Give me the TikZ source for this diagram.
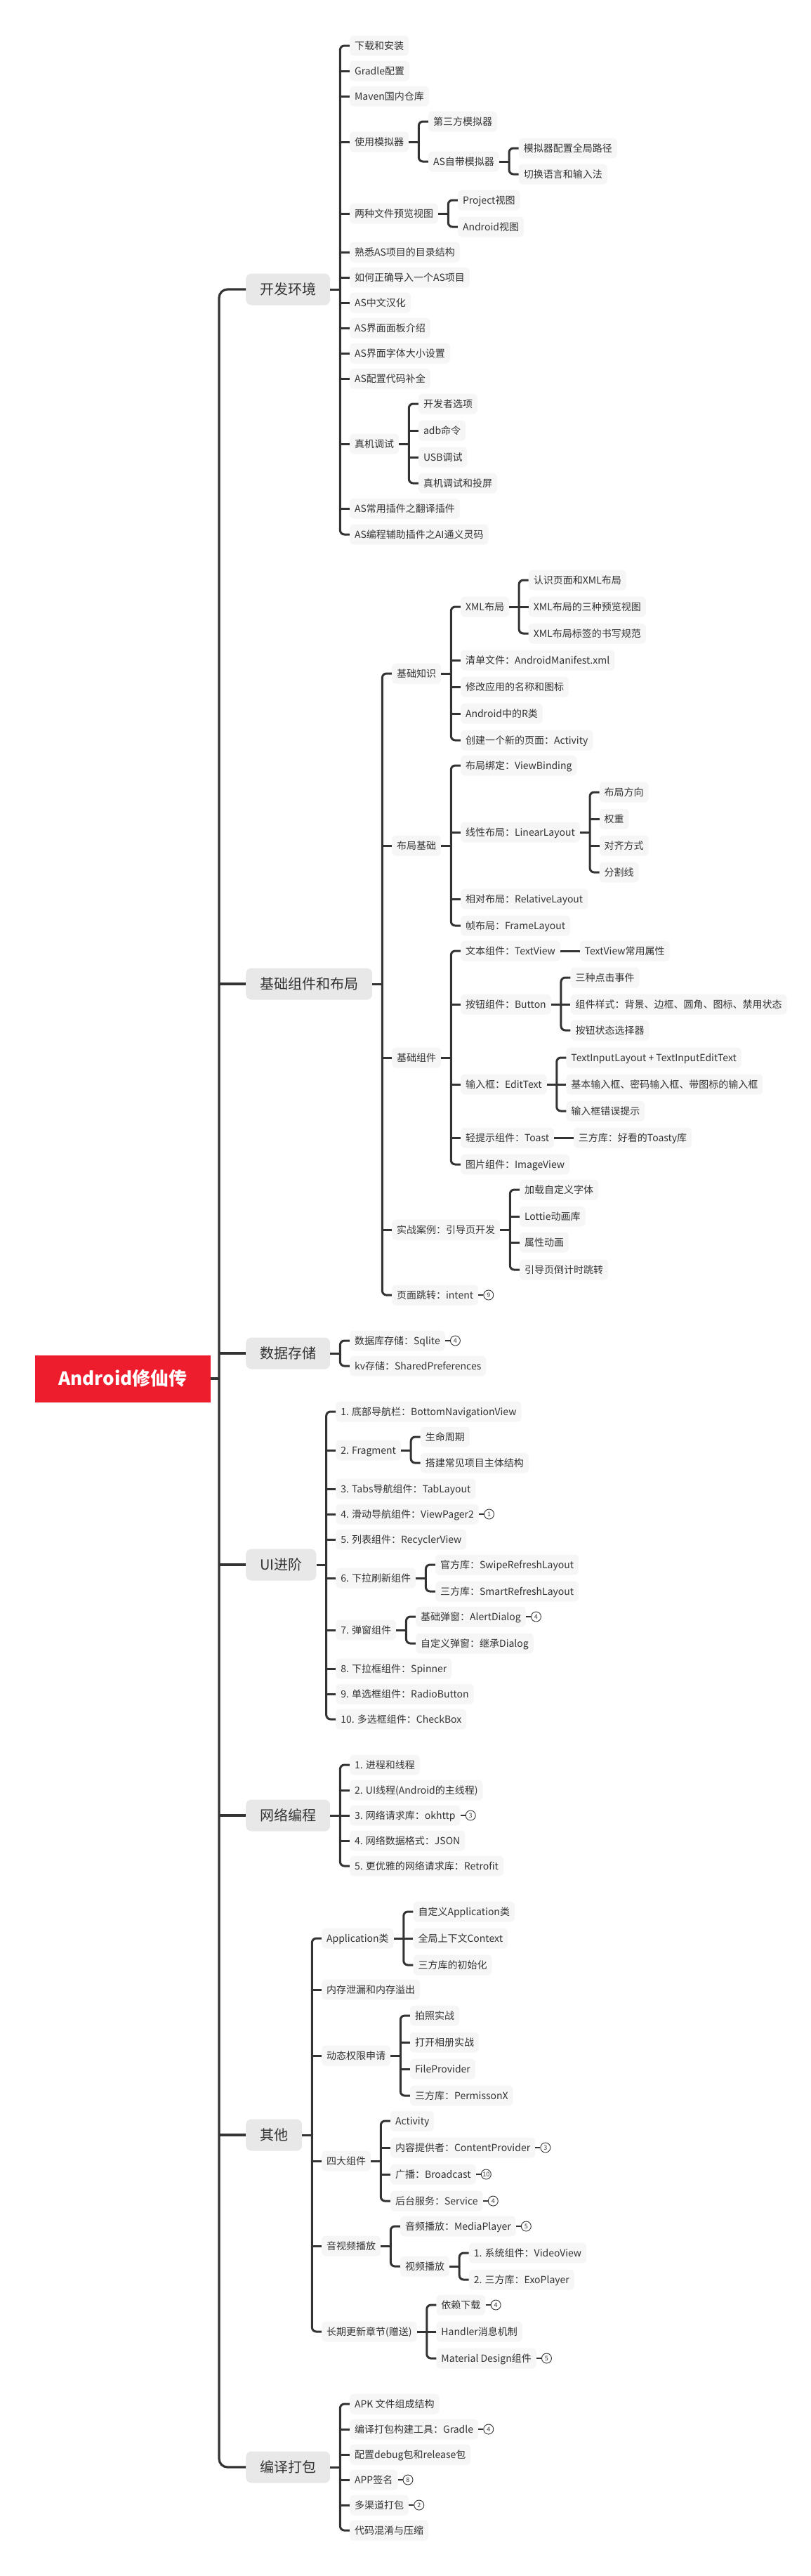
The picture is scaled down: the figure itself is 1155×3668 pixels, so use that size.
\documentclass[tikz,border=0pt]{standalone}
\usepackage{fontspec}
\setmainfont{Noto Sans CJK SC}
\usetikzlibrary{calc,positioning}
\definecolor{lc}{HTML}{333333}
\definecolor{txt}{HTML}{333333}
\definecolor{leafbg}{HTML}{F6F6F6}
\definecolor{topicbg}{HTML}{E8E8E8}
\definecolor{rootred}{HTML}{EE1D2D}
\tikzset{
 leaf/.style={anchor=west, fill=leafbg, rounded corners=6pt, inner xsep=7pt, inner ysep=0pt,
   minimum height=29pt, text height=12pt, text depth=2pt, font=\fontsize{14}{16}\selectfont, text=txt},
 topic/.style={anchor=west, fill=topicbg, rounded corners=8pt, inner xsep=20pt, inner ysep=0pt,
   minimum height=45pt, text height=17pt, text depth=3pt, font=\fontsize{20}{24}\selectfont, text=txt},
 rootbox/.style={fill=rootred, minimum width=250pt, minimum height=67pt, inner sep=0pt,
   text=white, font=\fontsize{26}{30}\selectfont\bfseries},
 conn/.style={draw=lc, line width=3pt},
 trunk/.style={draw=lc, line width=3.2pt},
 badge/.style={circle, draw=lc, line width=0.9pt, fill=white, inner sep=0pt, minimum size=14pt,
   font=\fontsize{9}{9}\selectfont, text=txt}
}
\newcommand\mmkid[4]{\node[leaf,xshift=27.5pt] (#1) at (#2.east |- 0,#3) {#4};}
\newcommand\mmfork[3]{%
 \draw[conn, rounded corners=6pt] (#2.west) -- ++(-13.5,0) |- (#3.west);
 \draw[conn] (#1.east) -- ($(#1.east -| #2.west)+(-13.5,0)$);}
\newcommand\mmstub[1]{\draw[conn] (#1.west) -- ++(-13.5,0);}
\newcommand\mmbadge[3]{\node[badge, right=7pt of #2] (#1) {#3}; \draw[conn, line width=2.2pt] (#2.east) -- (#1.west);}
\begin{document}
\begin{tikzpicture}[x=1pt,y=-1pt]
\useasboundingbox (0,0) rectangle (1155,3668);
% root and main topics
\node[rootbox] (R) at (175,1963) {Android修仙传};
\node[topic] (A) at (350,412) {开发环境};
\node[topic] (B) at (350,1401) {基础组件和布局};
\node[topic] (C) at (350,1927) {数据存储};
\node[topic] (D) at (350,2228) {UI进阶};
\node[topic] (E) at (350,2585) {网络编程};
\node[topic] (F) at (350,3040) {其他};
\node[topic] (G) at (350,3513) {编译打包};
\draw[trunk, rounded corners=12pt] (A.west) -- ++(-38,0) |- (G.west);
\foreach \t in {B,C,D,E,F} {\draw[trunk] (\t.west) -- ++(-38,0);}
\draw[trunk] (R.east) -- ($(R.east -| A.west)+(-38,0)$);

% ===== 开发环境
\mmkid{a1}{A}{65}{下载和安装}
\mmkid{a2}{A}{101}{Gradle配置}
\mmkid{a3}{A}{137}{Maven国内仓库}
\mmkid{a4}{A}{202}{使用模拟器}
\mmkid{a5}{A}{304}{两种文件预览视图}
\mmkid{a6}{A}{359}{熟悉AS项目的目录结构}
\mmkid{a7}{A}{395}{如何正确导入一个AS项目}
\mmkid{a8}{A}{431}{AS中文汉化}
\mmkid{a9}{A}{467}{AS界面面板介绍}
\mmkid{a10}{A}{503}{AS界面字体大小设置}
\mmkid{a11}{A}{539}{AS配置代码补全}
\mmkid{a12}{A}{632}{真机调试}
\mmkid{a13}{A}{724}{AS常用插件之翻译插件}
\mmkid{a14}{A}{761}{AS编程辅助插件之AI通义灵码}
\mmfork{A}{a1}{a14}
\foreach \n in {a2,a3,a4,a5,a6,a7,a8,a9,a10,a11,a12,a13} {\mmstub{\n}}
\mmkid{a41}{a4}{173}{第三方模拟器}
\mmkid{a42}{a4}{230}{AS自带模拟器}
\mmfork{a4}{a41}{a42}
\mmkid{a421}{a42}{211}{模拟器配置全局路径}
\mmkid{a422}{a42}{248}{切换语言和输入法}
\mmfork{a42}{a421}{a422}
\mmkid{a51}{a5}{285}{Project视图}
\mmkid{a52}{a5}{323}{Android视图}
\mmfork{a5}{a51}{a52}
\mmkid{a121}{a12}{575}{开发者选项}
\mmkid{a122}{a12}{613}{adb命令}
\mmkid{a123}{a12}{651}{USB调试}
\mmkid{a124}{a12}{688}{真机调试和投屏}
\mmfork{a12}{a121}{a124}
\mmstub{a122}\mmstub{a123}

% ===== 基础组件和布局
\mmkid{b1}{B}{959}{基础知识}
\mmkid{b2}{B}{1204}{布局基础}
\mmkid{b3}{B}{1506}{基础组件}
\mmkid{b4}{B}{1751}{实战案例：引导页开发}
\mmkid{b5}{B}{1844}{页面跳转：intent}
\mmfork{B}{b1}{b5}
\mmstub{b2}\mmstub{b3}\mmstub{b4}
\mmbadge{bb5}{b5}{9}
\mmkid{b11}{b1}{864}{XML布局}
\mmkid{b12}{b1}{940}{清单文件：AndroidManifest.xml}
\mmkid{b13}{b1}{978}{修改应用的名称和图标}
\mmkid{b14}{b1}{1016}{Android中的R类}
\mmkid{b15}{b1}{1054}{创建一个新的页面：Activity}
\mmfork{b1}{b11}{b15}
\mmstub{b12}\mmstub{b13}\mmstub{b14}
\mmkid{b111}{b11}{826}{认识页面和XML布局}
\mmkid{b112}{b11}{864}{XML布局的三种预览视图}
\mmkid{b113}{b11}{902}{XML布局标签的书写规范}
\mmfork{b11}{b111}{b113}
\mmstub{b112}
\mmkid{b21}{b2}{1090}{布局绑定：ViewBinding}
\mmkid{b22}{b2}{1185}{线性布局：LinearLayout}
\mmkid{b23}{b2}{1280}{相对布局：RelativeLayout}
\mmkid{b24}{b2}{1318}{帧布局：FrameLayout}
\mmfork{b2}{b21}{b24}
\mmstub{b22}\mmstub{b23}
\mmkid{b221}{b22}{1128}{布局方向}
\mmkid{b222}{b22}{1166}{权重}
\mmkid{b223}{b22}{1204}{对齐方式}
\mmkid{b224}{b22}{1242}{分割线}
\mmfork{b22}{b221}{b224}
\mmstub{b222}\mmstub{b223}
\mmkid{b31}{b3}{1354}{文本组件：TextView}
\mmkid{b32}{b3}{1430}{按钮组件：Button}
\mmkid{b33}{b3}{1544}{输入框：EditText}
\mmkid{b34}{b3}{1620}{轻提示组件：Toast}
\mmkid{b35}{b3}{1658}{图片组件：ImageView}
\mmfork{b3}{b31}{b35}
\mmstub{b32}\mmstub{b33}\mmstub{b34}
\mmkid{b311}{b31}{1354}{TextView常用属性}
\draw[conn] (b31.east) -- (b311.west);
\mmkid{b321}{b32}{1392}{三种点击事件}
\mmkid{b322}{b32}{1430}{组件样式：背景、边框、圆角、图标、禁用状态}
\mmkid{b323}{b32}{1467}{按钮状态选择器}
\mmfork{b32}{b321}{b323}
\mmstub{b322}
\mmkid{b331}{b33}{1506}{TextInputLayout + TextInputEditText}
\mmkid{b332}{b33}{1544}{基本输入框、密码输入框、带图标的输入框}
\mmkid{b333}{b33}{1582}{输入框错误提示}
\mmfork{b33}{b331}{b333}
\mmstub{b332}
\mmkid{b341}{b34}{1620}{三方库：好看的Toasty库}
\draw[conn] (b34.east) -- (b341.west);
\mmkid{b41}{b4}{1694}{加载自定义字体}
\mmkid{b42}{b4}{1732}{Lottie动画库}
\mmkid{b43}{b4}{1769}{属性动画}
\mmkid{b44}{b4}{1808}{引导页倒计时跳转}
\mmfork{b4}{b41}{b44}
\mmstub{b42}\mmstub{b43}

% ===== 数据存储
\mmkid{c1}{C}{1909}{数据库存储：Sqlite}
\mmkid{c2}{C}{1945}{kv存储：SharedPreferences}
\mmfork{C}{c1}{c2}
\mmbadge{cb1}{c1}{4}

% ===== UI进阶
\mmkid{d1}{D}{2010}{1. 底部导航栏：BottomNavigationView}
\mmkid{d2}{D}{2065}{2. Fragment}
\mmkid{d3}{D}{2120}{3. Tabs导航组件：TabLayout}
\mmkid{d4}{D}{2156}{4. 滑动导航组件：ViewPager2}
\mmkid{d5}{D}{2192}{5. 列表组件：RecyclerView}
\mmkid{d6}{D}{2247}{6. 下拉刷新组件}
\mmkid{d7}{D}{2321}{7. 弹窗组件}
\mmkid{d8}{D}{2376}{8. 下拉框组件：Spinner}
\mmkid{d9}{D}{2412}{9. 单选框组件：RadioButton}
\mmkid{d10}{D}{2448}{10. 多选框组件：CheckBox}
\mmfork{D}{d1}{d10}
\foreach \n in {d2,d3,d4,d5,d6,d7,d8,d9} {\mmstub{\n}}
\mmbadge{db4}{d4}{1}
\mmkid{d21}{d2}{2046}{生命周期}
\mmkid{d22}{d2}{2083}{搭建常见项目主体结构}
\mmfork{d2}{d21}{d22}
\mmkid{d61}{d6}{2228}{官方库：SwipeRefreshLayout}
\mmkid{d62}{d6}{2266}{三方库：SmartRefreshLayout}
\mmfork{d6}{d61}{d62}
\mmkid{d71}{d7}{2302}{基础弹窗：AlertDialog}
\mmkid{d72}{d7}{2340}{自定义弹窗：继承Dialog}
\mmfork{d7}{d71}{d72}
\mmbadge{db71}{d71}{4}

% ===== 网络编程
\mmkid{e1}{E}{2513}{1. 进程和线程}
\mmkid{e2}{E}{2549}{2. UI线程(Android的主线程)}
\mmkid{e3}{E}{2585}{3. 网络请求库：okhttp}
\mmkid{e4}{E}{2621}{4. 网络数据格式：JSON}
\mmkid{e5}{E}{2657}{5. 更优雅的网络请求库：Retrofit}
\mmfork{E}{e1}{e5}
\mmstub{e2}\mmstub{e3}\mmstub{e4}
\mmbadge{eb3}{e3}{3}

% ===== 其他
\mmkid{f1}{F}{2760}{Application类}
\mmkid{f2}{F}{2833}{内存泄漏和内存溢出}
\mmkid{f3}{F}{2927}{动态权限申请}
\mmkid{f4}{F}{3077}{四大组件}
\mmkid{f5}{F}{3198}{音视频播放}
\mmkid{f6}{F}{3320}{长期更新章节(赠送)}
\mmfork{F}{f1}{f6}
\mmstub{f2}\mmstub{f3}\mmstub{f4}\mmstub{f5}
\mmkid{f11}{f1}{2722}{自定义Application类}
\mmkid{f12}{f1}{2760}{全局上下文Context}
\mmkid{f13}{f1}{2798}{三方库的初始化}
\mmfork{f1}{f11}{f13}
\mmstub{f12}
\mmkid{f31}{f3}{2870}{拍照实战}
\mmkid{f32}{f3}{2908}{打开相册实战}
\mmkid{f33}{f3}{2946}{FileProvider}
\mmkid{f34}{f3}{2984}{三方库：PermissonX}
\mmfork{f3}{f31}{f34}
\mmstub{f32}\mmstub{f33}
\mmkid{f41}{f4}{3020}{Activity}
\mmkid{f42}{f4}{3058}{内容提供者：ContentProvider}
\mmkid{f43}{f4}{3096}{广播：Broadcast}
\mmkid{f44}{f4}{3134}{后台服务：Service}
\mmfork{f4}{f41}{f44}
\mmstub{f42}\mmstub{f43}
\mmbadge{fb42}{f42}{3}
\mmbadge{fb43}{f43}{10}
\mmbadge{fb44}{f44}{4}
\mmkid{f51}{f5}{3170}{音频播放：MediaPlayer}
\mmkid{f52}{f5}{3227}{视频播放}
\mmfork{f5}{f51}{f52}
\mmbadge{fb51}{f51}{5}
\mmkid{f521}{f52}{3208}{1. 系统组件：VideoView}
\mmkid{f522}{f52}{3246}{2. 三方库：ExoPlayer}
\mmfork{f52}{f521}{f522}
\mmkid{f61}{f6}{3282}{依赖下载}
\mmkid{f62}{f6}{3320}{Handler消息机制}
\mmkid{f63}{f6}{3358}{Material Design组件}
\mmfork{f6}{f61}{f63}
\mmstub{f62}
\mmbadge{fb61}{f61}{4}
\mmbadge{fb63}{f63}{5}

% ===== 编译打包
\mmkid{g1}{G}{3423}{APK 文件组成结构}
\mmkid{g2}{G}{3459}{编译打包构建工具：Gradle}
\mmkid{g3}{G}{3495}{配置debug包和release包}
\mmkid{g4}{G}{3531}{APP签名}
\mmkid{g5}{G}{3567}{多渠道打包}
\mmkid{g6}{G}{3603}{代码混淆与压缩}
\mmfork{G}{g1}{g6}
\mmstub{g2}\mmstub{g3}\mmstub{g4}\mmstub{g5}
\mmbadge{gb2}{g2}{4}
\mmbadge{gb4}{g4}{8}
\mmbadge{gb5}{g5}{2}
\end{tikzpicture}
\end{document}
